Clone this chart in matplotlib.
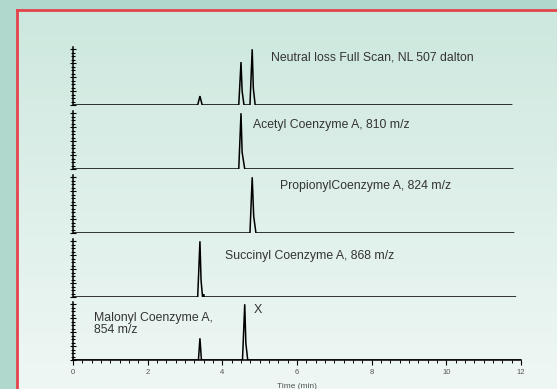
import numpy as np
import matplotlib
matplotlib.use("Agg")
import matplotlib.pyplot as plt

plt.rcParams['font.family'] = ['Liberation Sans', 'DejaVu Sans']

# chromatogram traces (time in min, relative intensity)
t_nl = [0, 3.34, 3.4, 3.46, 4.44, 4.5, 4.53, 4.58, 4.74, 4.8, 4.83, 4.88, 11.75]
i_nl = [0, 0, 0.16, 0, 0, 0.77, 0.25, 0, 0, 1.0, 0.3, 0, 0]
t_acetyl = [0, 4.44, 4.5, 4.53, 4.6, 11.78]
i_acetyl = [0, 0, 1.0, 0.3, 0, 0]
t_propionyl = [0, 4.74, 4.8, 4.84, 4.9, 11.8]
i_propionyl = [0, 0, 1.0, 0.3, 0, 0]
t_succinyl = [0, 3.34, 3.4, 3.43, 3.47, 3.5, 3.52, 3.55, 11.85]
i_succinyl = [0, 0, 1.0, 0.3, 0, 0.05, 0, 0, 0]
t_malonyl = [0, 3.36, 3.4, 3.44, 4.54, 4.6, 4.63, 4.68, 12]
i_malonyl = [0, 0, 0.39, 0, 0, 1.0, 0.3, 0, 0]

traces = [(t_nl, i_nl), (t_acetyl, i_acetyl), (t_propionyl, i_propionyl),
          (t_succinyl, i_succinyl), (t_malonyl, i_malonyl)]
labels = ["Neutral loss Full Scan, NL 507 dalton",
          "Acetyl Coenzyme A, 810 m/z",
          "PropionylCoenzyme A, 824 m/z",
          "Succinyl Coenzyme A, 868 m/z",
          "Malonyl Coenzyme A,\n854 m/z"]
label_pos = [(5.3, 0.86), (4.83, 0.79), (5.55, 0.84), (4.07, 0.74), (0.56, 0.65)]
x_ticks = [0, 2, 4, 6, 8, 10, 12]

W, H = 557, 389
fig = plt.figure(figsize=(W / 100, H / 100), dpi=100)
fig.patch.set_facecolor('#b0d8cc')

# light panel with red border
bg = fig.add_axes([17 / W, 0, 1 - 17 / W, (H - 10) / H])
grad = np.linspace(0, 1, 256).reshape(-1, 1)
cmap = matplotlib.colors.LinearSegmentedColormap.from_list('bg', ['#cde8de', '#eff7f4'])
bg.imshow(grad, aspect='auto', cmap=cmap, extent=[0, 1, 0, 1], origin='upper')
bg.set_xticks([])
bg.set_yticks([])
for s in ['right', 'bottom']:
    bg.spines[s].set_visible(False)
for s in ['left', 'top']:
    bg.spines[s].set_color('#e4434a')
    bg.spines[s].set_linewidth(2)

left, right = 73, 521
baselines = [105, 169, 233, 297, 360]
ph = 58
for k, ((t, y), lab, (lx, ly)) in enumerate(zip(traces, labels, label_pos)):
    b = baselines[k]
    ax = fig.add_axes([left / W, (H - b) / H, (right - left) / W, ph / H])
    ax.patch.set_alpha(0)
    ax.plot(t, y, color='black', lw=1.1, solid_joinstyle='miter')
    ax.set_xlim(0, 12)
    ax.set_ylim(0, 1.04)
    ax.spines['top'].set_visible(False)
    ax.spines['right'].set_visible(False)
    ax.spines['left'].set_linewidth(1.1)
    ax.set_yticks(np.arange(0, 1.01, 0.25))
    ax.set_yticks(np.arange(0, 1.01, 0.0625), minor=True)
    ax.tick_params(axis='y', which='both', direction='inout', length=4, width=0.8,
                   labelleft=False)
    ax.tick_params(axis='y', which='minor', length=2.5)
    ax.text(lx, ly, lab, transform=ax.transData, fontsize=8.8, color='#333333',
            va='center', ha='left', linespacing=0.95)
    if k < 4:
        ax.spines['bottom'].set_visible(False)
        ax.set_xticks([])
    else:
        ax.spines['bottom'].set_linewidth(1.1)
        ax.set_xticks(x_ticks)
        ax.set_xticks(np.arange(0, 12.01, 0.25), minor=True)
        ax.tick_params(axis='x', which='major', direction='out', length=3.5, width=0.8,
                       labelsize=5.5, labelcolor='#555555', pad=3)
        ax.tick_params(axis='x', which='minor', direction='out', length=2, width=0.7)
        ax.text(4.85, 0.9, 'X', fontsize=9, color='#333333', va='center', ha='left')
        ax.set_xlabel('Time (min)', fontsize=6, color='#555555', labelpad=5)

fig.savefig('out.png', dpi=100, facecolor=fig.get_facecolor())
